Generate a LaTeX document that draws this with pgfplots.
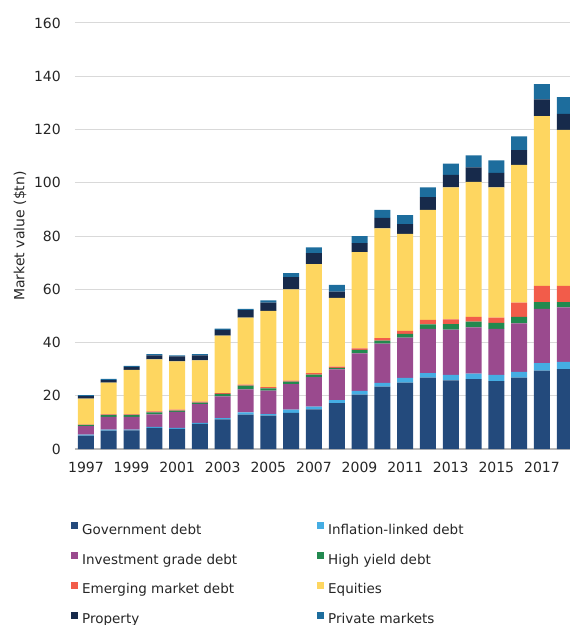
\documentclass[border=0pt]{standalone}
\usepackage{fontspec}
\setmainfont{DejaVu Sans}
\usepackage{pgfplots}
\pgfplotsset{compat=1.18}
\usepackage{pgfplotstable}
\definecolor{cgov}{HTML}{234A7C}
\definecolor{cil}{HTML}{45ADE3}
\definecolor{cig}{HTML}{9A4A8E}
\definecolor{chy}{HTML}{22894F}
\definecolor{cem}{HTML}{F25C4A}
\definecolor{ceq}{HTML}{FED660}
\definecolor{cprop}{HTML}{172A4B}
\definecolor{cpm}{HTML}{1D6D9D}
\pgfplotstableread{
year gov il ig hy em eq prop pm
1997 5.0 0.4 3.2 0.5 0.1 9.7 1.0 0.3
1998 6.9 0.4 4.8 0.7 0.2 11.9 1.0 0.4
1999 7.0 0.3 4.8 0.7 0.2 16.7 1.1 0.4
2000 7.9 0.4 4.7 0.8 0.3 19.6 1.5 0.4
2001 7.6 0.3 6.0 0.5 0.4 18.1 1.9 0.4
2002 9.4 0.4 7.1 0.5 0.4 15.5 1.9 0.4
2003 11.1 0.5 8.2 0.9 0.3 21.6 2.1 0.5
2004 12.9 0.9 8.6 1.4 0.4 25.1 2.9 0.4
2005 12.5 0.6 8.8 0.9 0.4 28.7 3.1 0.8
2006 13.6 1.2 9.6 0.9 0.4 34.3 4.6 1.5
2007 14.9 1.0 11.1 0.9 0.6 40.9 4.2 2.1
2008 17.2 1.2 11.5 0.6 0.4 25.9 2.3 2.5
2009 20.4 1.4 14.1 1.3 0.6 36.1 3.4 2.7
2010 23.4 1.4 14.8 1.1 0.9 41.3 3.9 3.0
2011 24.9 1.8 15.1 1.4 1.2 36.4 3.7 3.3
2012 26.8 1.7 16.6 1.7 1.7 41.3 4.8 3.7
2013 25.8 2.0 17.0 2.1 1.8 49.6 4.7 4.2
2014 26.2 2.1 17.4 2.1 1.8 50.7 5.5 4.5
2015 25.5 2.3 17.3 2.3 1.9 49.0 5.4 4.7
2016 26.8 2.2 18.2 2.4 5.4 51.7 5.6 5.1
2017 29.4 2.9 20.3 2.6 6.1 63.7 6.3 5.7
2018 30.0 2.7 20.5 2.0 6.1 58.6 6.0 6.3
}\data
\pgfplotsset{LI/.style={legend image code/.code={\fill[##1] (0bp,1.4bp) rectangle (7bp,8.4bp);}}}
\begin{document}
\begin{tikzpicture}
\begin{axis}[
  at={(0,0)}, anchor=south west,
  scale only axis, width=495bp, height=426bp,
  ybar stacked, bar width=16bp,
  xmin=1996.52, xmax=2018.23, ymin=0, ymax=160,
  ytick={0,20,...,160}, xtick={1997,1999,...,2017},
  /pgf/number format/1000 sep={},
  /pgf/number format/assume math mode=true,
  tick label style={font=\fontsize{14bp}{16bp}\selectfont, text=black!85},
  yticklabel style={inner sep=0pt, anchor=east, xshift=-14bp},
  xticklabel style={inner sep=0pt, anchor=north, yshift=-13bp},
  major tick length=0pt,
  axis line style={draw=none},
  ymajorgrids,
  major grid style={color=black!15, line width=1bp},
  extra y ticks={0}, extra y tick labels={},
  extra y tick style={grid=major, major grid style={color=black!28, line width=1.6bp}},
  ylabel={Market value (\$tn)},
  ylabel style={at={(axis description cs:-0.111,0.5)}, anchor=center, font=\fontsize{14bp}{16bp}\selectfont, text=black!85},
  legend columns=2,
  legend cell align=left,
  legend style={at={(axis description cs:-0.00808,-0.1714)}, anchor=north west, draw=none, fill=none, inner sep=0pt,
    column sep=2bp, row sep=15bp, font=\fontsize{13.5bp}{16bp}\selectfont, text=black!85,
    nodes={inner xsep=2bp, inner ysep=0pt, text height=10bp, text depth=3bp}},
]
\addplot[fill=cgov, draw=none, LI] table[x=year,y=gov]{\data};
\addlegendentry{\makebox[231bp][l]{Government debt}}
\addplot[fill=cil, draw=none, LI] table[x=year,y=il]{\data};
\addlegendentry{Inflation-linked debt}
\addplot[fill=cig, draw=none, LI] table[x=year,y=ig]{\data};
\addlegendentry{\makebox[231bp][l]{Investment grade debt}}
\addplot[fill=chy, draw=none, LI] table[x=year,y=hy]{\data};
\addlegendentry{High yield debt}
\addplot[fill=cem, draw=none, LI] table[x=year,y=em]{\data};
\addlegendentry{\makebox[231bp][l]{Emerging market debt}}
\addplot[fill=ceq, draw=none, LI] table[x=year,y=eq]{\data};
\addlegendentry{Equities}
\addplot[fill=cprop, draw=none, LI] table[x=year,y=prop]{\data};
\addlegendentry{\makebox[231bp][l]{Property}}
\addplot[fill=cpm, draw=none, LI] table[x=year,y=pm]{\data};
\addlegendentry{Private markets}
\end{axis}
\pgfresetboundingbox
\path[use as bounding box] (-75bp,-176bp) rectangle (495bp,449bp);
\end{tikzpicture}
\end{document}
